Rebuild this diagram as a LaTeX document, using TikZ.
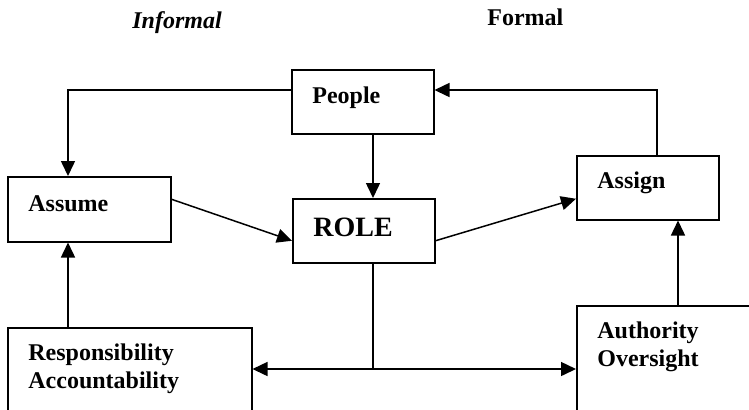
\documentclass[tikz,border=0pt]{standalone}
\usepackage{fontspec}
\setmainfont{Liberation Serif}
\usetikzlibrary{arrows.meta, calc}

\tikzset{
  box/.style={draw, line width=0.75pt, inner sep=0pt, anchor=north west},
  lbl/.style={anchor=base west, inner sep=0pt, align=left, font=\fontsize{12}{14}\selectfont\bfseries},
  link/.style={line width=0.75pt, -{Triangle[length=7.5pt, width=7pt]}},
  twolink/.style={line width=0.75pt, {Triangle[length=7.5pt, width=7pt]}-{Triangle[length=7.5pt, width=7pt]}}
}

\begin{document}
\begin{tikzpicture}[x=0.5pt, y=-0.5pt]
  \useasboundingbox (0,0) rectangle (749,409);
  \node[lbl, font=\fontsize{12}{14}\selectfont\bfseries\itshape] (informal) at (132,28) {Informal};
  \node[lbl] (formal) at (487,25) {Formal};
  \foreach \n/\x/\y/\w/\h in {people/291/69/142/64, assume/7/176/163/65, role/292/198/142/64,
      assign/576/155/142/64, resp/7/327/244/120, auth/576/305/220/120}{
    \node[box, minimum width=\w*0.5pt, minimum height=\h*0.5pt] (\n) at (\x,\y) {};
  }
  \node[lbl] (peopletxt) at (312,103) {People};
  \node[lbl] (assumetxt) at (28,211) {Assume};
  \node[lbl, font=\fontsize{14}{17}\selectfont\bfseries] (roletxt) at (313,236) {ROLE};
  \node[lbl] (assigntxt) at (597,188) {Assign};
  \node[lbl] (resptxt) at (28,388) {Responsibility\\Accountability};
  \node[lbl] (authtxt) at (597,366) {Authority\\Oversight};
  \coordinate (toprow) at (0,90);
  \coordinate (bottomrow) at (0,369);
  \coordinate (midcol) at (373,0);
  \coordinate (leftcol) at (68,0);
  \coordinate (rightcol) at (657,0);
  \coordinate (authcol) at (678,0);
  \draw[link] (people.west |- toprow) -| (assume.north -| leftcol);
  \draw[link] (assign.north -| rightcol) |- (people.east |- toprow);
  \draw[link] (people.south -| midcol) -- (role.north -| midcol);
  \draw[link] ($(assume.east)+(0,-10)$) -- ($(role.west)+(0,10)$);
  \draw[link] ($(role.east)+(0,10)$) -- ($(assign.west)+(0,11)$);
  \draw[link] (resp.north -| leftcol) -- (assume.south -| leftcol);
  \draw[link] (auth.north -| authcol) -- (assign.south -| authcol);
  \draw[line width=0.75pt] (role.south -| midcol) -- (midcol |- bottomrow);
  \draw[twolink] (resp.east |- bottomrow) -- (auth.west |- bottomrow);
\end{tikzpicture}
\end{document}
